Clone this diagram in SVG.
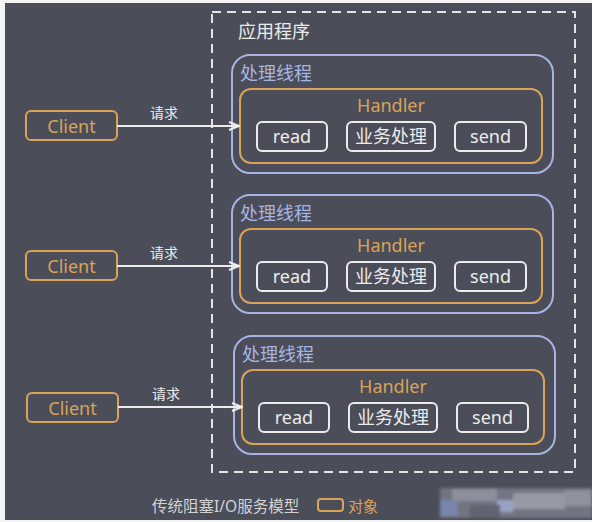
<svg xmlns="http://www.w3.org/2000/svg" width="592" height="522" viewBox="0 0 592 522">
  <defs>
    <style>
      .t { font-family: "Noto Sans", "Noto Sans CJK SC", sans-serif; }
      .thread { fill: none; stroke: #a7b5e4; stroke-width: 2; }
      .handler { fill: none; stroke: #d9a35a; stroke-width: 2; }
      .op { fill: none; stroke: #ececec; stroke-width: 2; }
      .client { fill: none; stroke: #d9a35a; stroke-width: 2; }
      .orange { fill: #d9a35a; }
      .white { fill: #ececec; }
      .blue { fill: #a7b5e4; }
      .conn { stroke: #ececec; stroke-width: 2; fill: none; }
    </style>
    <marker id="arrow" viewBox="0 0 12 10" refX="11" refY="5" markerWidth="12" markerHeight="10" markerUnits="userSpaceOnUse" orient="auto">
      <path d="M1,1 L11,5 L1,9" fill="none" stroke="#ececec" stroke-width="2"/>
    </marker>
    <filter id="soft" x="-10%" y="-30%" width="120%" height="160%">
      <feGaussianBlur stdDeviation="1.5"/>
    </filter>
    <!-- one processing thread with its handler -->
    <g id="threadTpl">
      <rect class="thread" x="232" y="55" width="321" height="118" rx="18"/>
      <text class="t blue" x="240" y="80" font-size="18">处理线程</text>
      <rect class="handler" x="240" y="89" width="302" height="74" rx="11"/>
      <text class="t orange" x="391" y="112" font-size="18" text-anchor="middle">Handler</text>
      <rect class="op" x="257" y="122" width="70" height="29" rx="5"/>
      <text class="t white" x="292" y="143" font-size="18" text-anchor="middle">read</text>
      <rect class="op" x="347" y="122" width="88" height="29" rx="5"/>
      <text class="t white" x="391" y="143" font-size="18" text-anchor="middle">业务处理</text>
      <rect class="op" x="455" y="122" width="71" height="29" rx="5"/>
      <text class="t white" x="490.5" y="143" font-size="18" text-anchor="middle">send</text>
    </g>
    <g id="clientTpl">
      <rect class="client" x="26" y="111" width="91" height="29" rx="5"/>
      <text class="t orange" x="71.5" y="133" font-size="18" text-anchor="middle">Client</text>
    </g>
  </defs>

  <!-- canvas -->
  <rect x="0" y="0" width="592" height="522" fill="#f4f4f4"/>
  <rect x="5" y="3" width="587" height="517" fill="#4b4d58"/>

  <!-- application boundary -->
  <g id="app">
    <rect x="212" y="12" width="363" height="460" fill="none" stroke="#e4e4e4" stroke-width="2" stroke-dasharray="9 6"/>
    <text class="t white" x="238" y="38" font-size="18">应用程序</text>
  </g>

  <g id="thread1"><use href="#threadTpl"/></g>
  <g id="thread2"><use href="#threadTpl" transform="translate(0,140)"/></g>
  <g id="thread3"><use href="#threadTpl" transform="translate(2,281)"/></g>

  <g id="client1"><use href="#clientTpl"/></g>
  <g id="client2"><use href="#clientTpl" transform="translate(0,140)"/></g>
  <g id="client3"><use href="#clientTpl" transform="translate(1,282)"/></g>

  <g id="connectors">
    <line class="conn" x1="117" y1="126" x2="239" y2="126" marker-end="url(#arrow)"/>
    <text class="t white" x="150" y="118" font-size="14">请求</text>
    <line class="conn" x1="117" y1="266" x2="239" y2="266" marker-end="url(#arrow)"/>
    <text class="t white" x="150" y="258" font-size="14">请求</text>
    <line class="conn" x1="118" y1="407" x2="242" y2="407" marker-end="url(#arrow)"/>
    <text class="t white" x="152" y="399" font-size="14">请求</text>
  </g>

  <!-- legend -->
  <g id="legend">
    <text class="t" x="152" y="512" font-size="15.5" fill="#d4d4d4">传统阻塞I/O服务模型</text>
    <rect x="318" y="499" width="25" height="12" rx="3" fill="none" stroke="#d9a35a" stroke-width="2"/>
    <text class="t orange" x="348" y="512" font-size="15">对象</text>
  </g>

  <!-- obscured caption area -->
  <g filter="url(#soft)">
    <rect x="440" y="488" width="152" height="30" fill="#727481"/>
    <rect x="452" y="489" width="45" height="12" fill="#8d8f9b"/>
    <rect x="497" y="500" width="16" height="12" fill="#9aa2c4"/>
    <rect x="513" y="493" width="52" height="16" fill="#979aa5"/>
    <rect x="440" y="500" width="18" height="16" fill="#7884aa"/>
    <rect x="565" y="490" width="27" height="16" fill="#8f919c"/>
    <rect x="470" y="505" width="30" height="13" fill="#60636f"/>
  </g>
</svg>
